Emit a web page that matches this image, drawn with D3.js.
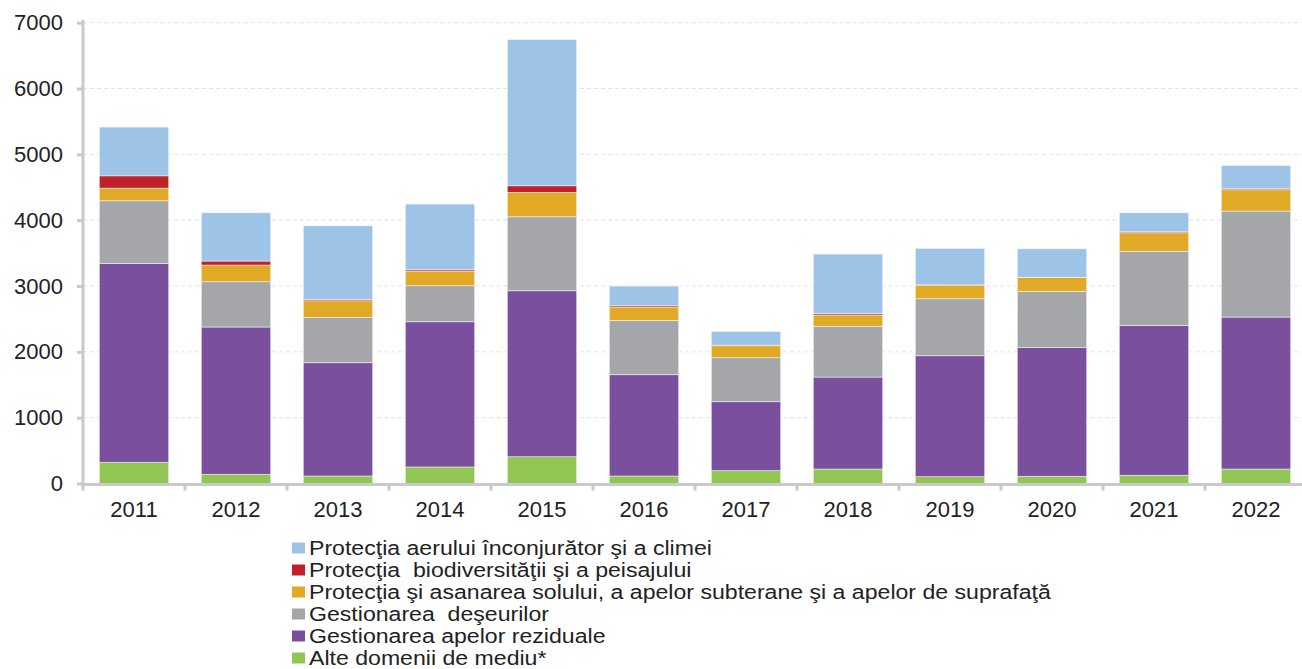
<!DOCTYPE html>
<html>
<head>
<meta charset="utf-8">
<script src="https://cdn.jsdelivr.net/npm/d3@7.9.0/dist/d3.min.js"></script>
<style>
  body { margin: 0; background: #fff; }
  svg { display: block; font-family: "Liberation Sans", Arial, sans-serif; }
</style>
</head>
<body>
<svg id="chart" width="1302" height="669"></svg>
<script>
// categories
const years = ["2011", "2012", "2013", "2014", "2015", "2016", "2017", "2018", "2019", "2020", "2021", "2022"];

// series values, bottom to top of the stack
const alteDomenii   = [322, 139, 114, 251, 407, 114, 195, 220, 104, 109, 125, 220];
const apeleReziduale = [3022, 2238, 1721, 2206, 2521, 1539, 1048, 1397, 1837, 1959, 2277, 2308];
const deseuri       = [951, 688, 689, 547, 1124, 825, 668, 770, 866, 850, 1124, 1610];
const solApe        = [192, 253, 252, 223, 370, 202, 182, 172, 207, 213, 283, 324];
const biodiversitate = [187, 61, 21, 20, 101, 20, 8, 20, 3, 2, 15, 15];
const aerClima      = [740, 734, 1118, 998, 2222, 299, 208, 906, 554, 433, 289, 355];

const yTicks = [0, 1000, 2000, 3000, 4000, 5000, 6000, 7000];

const seriesDefs = [
  { key: "alte", name: "Alte domenii de mediu*", values: alteDomenii, color: "#92c653" },
  { key: "rez", name: "Gestionarea apelor reziduale", values: apeleReziduale, color: "#7a509e" },
  { key: "des", name: "Gestionarea  deşeurilor", values: deseuri, color: "#a5a6a9" },
  { key: "sol", name: "Protecţia şi asanarea solului, a apelor subterane şi a apelor de suprafaţă", values: solApe, color: "#e0a926" },
  { key: "bio", name: "Protecţia  biodiversităţii şi a peisajului", values: biodiversitate, color: "#c0202a" },
  { key: "aer", name: "Protecţia aerului înconjurător şi a climei", values: aerClima, color: "#9dc3e6" }
];

// table for d3.stack
const table = years.map((y, i) => {
  const row = { year: y };
  seriesDefs.forEach(s => { row[s.key] = s.values[i]; });
  return row;
});

const svg = d3.select("#chart");
const margin = { top: 22.7, right: -5, bottom: 185.5, left: 83 };
const width = 1302, height = 669;
const innerH = height - margin.top - margin.bottom; // 0 at y=483.5

const x = d3.scaleBand()
  .domain(years)
  .range([margin.left, width - margin.right])
  .paddingInner(0.32)
  .paddingOuter(0.16);

const y = d3.scaleLinear()
  .domain([0, 7000])
  .range([margin.top + innerH, margin.top]);

const axisColor = "#c8c9cb";

// gridlines
svg.append("g")
  .selectAll("line")
  .data(yTicks.filter(d => d > 0))
  .join("line")
  .attr("x1", margin.left)
  .attr("x2", width)
  .attr("y1", d => y(d))
  .attr("y2", d => y(d))
  .attr("stroke", "#e3e3e3")
  .attr("stroke-width", 1)
  .attr("stroke-dasharray", "4,3");

// stacked bars
const stack = d3.stack().keys(seriesDefs.map(s => s.key));
const layers = stack(table);

svg.append("g")
  .selectAll("g")
  .data(layers)
  .join("g")
  .attr("fill", (d, i) => seriesDefs[i].color)
  .selectAll("rect")
  .data(d => d)
  .join("rect")
  .attr("x", d => x(d.data.year))
  .attr("width", x.bandwidth())
  .attr("y", d => y(d[1]))
  .attr("height", d => y(d[0]) - y(d[1]))
  .attr("stroke", "#ffffff")
  .attr("stroke-opacity", 0.6)
  .attr("stroke-width", 0.8);

// y axis
const yAxis = svg.append("g")
  .attr("transform", `translate(${margin.left},0)`)
  .call(d3.axisLeft(y).tickValues(yTicks).tickFormat(d3.format("d")).tickSize(6).tickPadding(14).tickSizeOuter(0));
yAxis.select(".domain")
  .attr("stroke", axisColor)
  .attr("stroke-width", 3)
  .attr("d", `M0,${y(0) + 1.5}V${y(7000) - 3}`);
yAxis.selectAll(".tick line").attr("stroke", axisColor).attr("stroke-width", 3);
yAxis.selectAll(".tick text")
  .attr("fill", "#222")
  .attr("font-size", 22)
  .attr("font-family", "Liberation Sans, Arial, sans-serif");

// x axis
const xAxis = svg.append("g")
  .attr("transform", `translate(0,${y(0) + 1})`)
  .call(d3.axisBottom(x).tickSize(0).tickPadding(17).tickSizeOuter(0));
xAxis.select(".domain")
  .attr("stroke", axisColor)
  .attr("stroke-width", 3)
  .attr("d", `M${margin.left - 1.5},0H${width}`);
xAxis.selectAll(".tick text")
  .attr("fill", "#222")
  .attr("font-size", 22)
  .attr("font-family", "Liberation Sans, Arial, sans-serif");

// band boundary ticks on x axis
const step = x.step();
const bounds = years.map((d, i) => margin.left + i * step);
xAxis.append("g")
  .selectAll("line")
  .data(bounds)
  .join("line")
  .attr("x1", d => d)
  .attr("x2", d => d)
  .attr("y1", 0)
  .attr("y2", 6)
  .attr("stroke", axisColor)
  .attr("stroke-width", 3);

// legend, top entry = top of stack
const legendItems = seriesDefs.slice().reverse();
const legend = svg.append("g").attr("transform", "translate(292,537)");
const row = legend.selectAll("g")
  .data(legendItems)
  .join("g")
  .attr("transform", (d, i) => `translate(0,${i * 22})`);
row.append("rect")
  .attr("x", 0)
  .attr("y", 5.5)
  .attr("width", 13)
  .attr("height", 11)
  .attr("fill", d => d.color);
row.append("text")
  .attr("transform", "translate(17,18) scale(1.1,1)")
  .attr("fill", "#222")
  .attr("font-size", 21)
  .style("white-space", "pre")
  .text(d => d.name);
</script>
</body>
</html>
